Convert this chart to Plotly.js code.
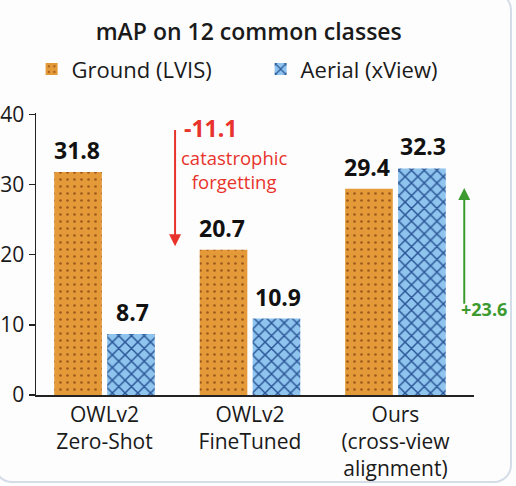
<!DOCTYPE html>
<html>
<head>
<meta charset="utf-8">
<script src="https://cdn.plot.ly/plotly-3.0.1.min.js"></script>
<style>
  html, body { margin: 0; padding: 0; background: #ffffff; overflow: hidden; }
  #wrap { position: relative; width: 516px; height: 486px; }
  #chart { position: absolute; left: 0; top: 0; width: 516px; height: 486px; }
  #card { position: absolute; left: -6px; top: -8px; width: 518px; height: 491px;
          border: 2px solid #d4dce8; border-radius: 18px; pointer-events: none; box-sizing: border-box; }
</style>
</head>
<body>
<div id="wrap">
  <div id="chart"></div>
  <div id="card"></div>
</div>
<script>
// ---- data ----
const categories = ["OWLv2<br>Zero-Shot", "OWLv2<br>FineTuned", "Ours<br>(cross-view<br>alignment)"];
const groundValues = [31.8, 20.7, 29.4];
const aerialValues = [8.7, 10.9, 32.3];
const seriesNames = ["Ground (LVIS)", "Aerial (xView)"];
const yTickValues = [0, 10, 20, 30, 40];
const titleText = "mAP on 12 common classes";
const dropText = "-11.1";
const dropNote = "catastrophic<br>forgetting";
const gainText = "+23.6";

const FONT = "'Open Sans', 'Noto Sans', Arial, sans-serif";

const ground = {
  type: "bar", name: seriesNames[0], x: categories, y: groundValues,
  marker: { color: "#E49A38", line: { width: 0 },
            pattern: { shape: ".", fgcolor: "#9E5A1C", bgcolor: "#E49A38", size: 7, solidity: 0.12, fillmode: "replace" } },
  hoverinfo: "skip"
};
const aerial = {
  type: "bar", name: seriesNames[1], x: categories, y: aerialValues,
  marker: { color: "#8EC4EE", line: { width: 0 },
            pattern: { shape: "x", fgcolor: "#2A5596", bgcolor: "#8EC4EE", size: 9, solidity: 0.3, fillmode: "replace" } },
  hoverinfo: "skip"
};

// value labels on bars
const halfOffsetPx = 28;
const labelAnn = [];
groundValues.forEach((v, i) => labelAnn.push({
  x: categories[i], y: v, xref: "x", yref: "y", text: "<b>" + v.toFixed(1) + "</b>",
  showarrow: false, yanchor: "bottom", xshift: -halfOffsetPx, yshift: 4,
  font: { family: FONT, size: 23, color: "#111" }
}));
aerialValues.forEach((v, i) => labelAnn.push({
  x: categories[i], y: v, xref: "x", yref: "y", text: "<b>" + v.toFixed(1) + "</b>",
  showarrow: false, yanchor: "bottom", xshift: halfOffsetPx, yshift: 4,
  font: { family: FONT, size: 23, color: "#111" }
}));

const RED = "#E8332C", GREEN = "#3C9A2F";
const extraAnn = [
  // red arrow (drop)
  { x: 0.485, y: 21.2, ax: 0.485, ay: 38.0, xref: "x", yref: "y", axref: "x", ayref: "y",
    text: "", showarrow: true, arrowhead: 2, arrowsize: 1.2, arrowwidth: 2, arrowcolor: RED },
  { x: 0.535, y: 38.0, xref: "x", yref: "y", text: "<b>" + dropText + "</b>", showarrow: false,
    xanchor: "left", yanchor: "middle", font: { family: FONT, size: 23, color: RED } },
  { x: 0.89, y: 32.1, xref: "x", yref: "y", text: dropNote, showarrow: false,
    xanchor: "center", yanchor: "middle", font: { family: FONT, size: 18.5, color: RED } },
  // green arrow (gain)
  { x: 2.473, y: 29.5, ax: 2.473, ay: 12.8, xref: "x", yref: "y", axref: "x", ayref: "y",
    text: "", showarrow: true, arrowhead: 2, arrowsize: 1.2, arrowwidth: 2, arrowcolor: GREEN },
  { x: 2.435, y: 12.3, xref: "x", yref: "y", text: "<b>" + gainText + "</b>", showarrow: false,
    xanchor: "left", yanchor: "middle", font: { family: FONT, size: 18, color: GREEN } }
];

const layout = {
  width: 516, height: 486,
  paper_bgcolor: "#fdfdfd", plot_bgcolor: "rgba(0,0,0,0)",
  margin: { l: 36, r: 42, t: 113, b: 91 },
  font: { family: FONT, color: "#1a1a1a" },
  title: { text: titleText, xref: "container", x: 0.482, xanchor: "center",
           yref: "container", y: 0.934, yanchor: "middle",
           font: { family: FONT, size: 23, weight: 600, color: "#1a1a1a" } },
  barmode: "group", bargap: 0.272, bargroupgap: 0.1,
  showlegend: true,
  legend: { orientation: "h", x: -0.01, xanchor: "left", y: 1.155, yanchor: "middle",
            font: { family: FONT, size: 22, color: "#1a1a1a" }, bgcolor: "rgba(0,0,0,0)",
            itemwidth: 30, entrywidth: 184, entrywidthmode: "pixels", traceorder: "normal" },
  xaxis: { type: "category", range: [-0.471, 2.54], showline: true, linecolor: "#222", linewidth: 1.5,
           ticks: "", showgrid: false, zeroline: false, fixedrange: true,
           tickfont: { family: FONT, size: 21, color: "#1a1a1a" } },
  yaxis: { range: [0, 40.2], tickvals: yTickValues, showline: true, linecolor: "#222", linewidth: 1.5,
           ticks: "outside", ticklen: 6, tickwidth: 1.5, tickcolor: "#222", showgrid: false, zeroline: false,
           fixedrange: true, tickfont: { family: FONT, size: 21, color: "#1a1a1a" } },
  annotations: labelAnn.concat(extraAnn)
};

Plotly.newPlot("chart", [ground, aerial], layout, { displayModeBar: false, staticPlot: true });
</script>
</body>
</html>
